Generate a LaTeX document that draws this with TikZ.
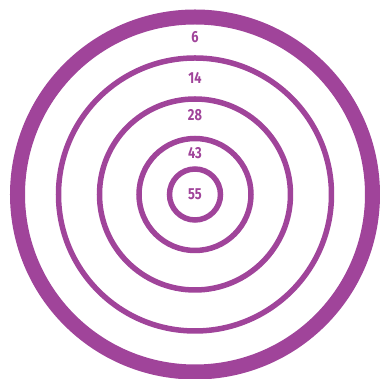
\documentclass[tikz,border=0pt]{standalone}
\usepackage{fontspec}
\setmainfont{Fira Sans}
\usetikzlibrary{positioning}
\definecolor{ringpurple}{RGB}{160,68,154}
\tikzset{
  ring/.style={draw=ringpurple, line width=5.5pt},
  score/.style={text=ringpurple, font=\fontsize{16}{16}\selectfont\bfseries,
    inner sep=0pt, xscale=0.8, transform shape}
}

\begin{document}
\begin{tikzpicture}[x=1pt, y=1pt]
\useasboundingbox (-195,-184.5) rectangle (186,194.5);
\draw[ringpurple, line width=15pt] (0,0) circle (177.5);
\draw[ring] (0,0) circle (136.5);
\draw[ring] (0,0) circle (95.5);
\draw[ring] (0,0) circle (56);
\draw[ring] (0,0) circle (25.5);
\node[score] (s55) at (0,0) {55};
\node[score] (s43) at (0,41.5) {43};
\node[score] (s28) at (0,79.5) {28};
\node[score] (s14) at (0,116.5) {14};
\node[score] (s6) at (0,157.5) {6};
\end{tikzpicture}
\end{document}
